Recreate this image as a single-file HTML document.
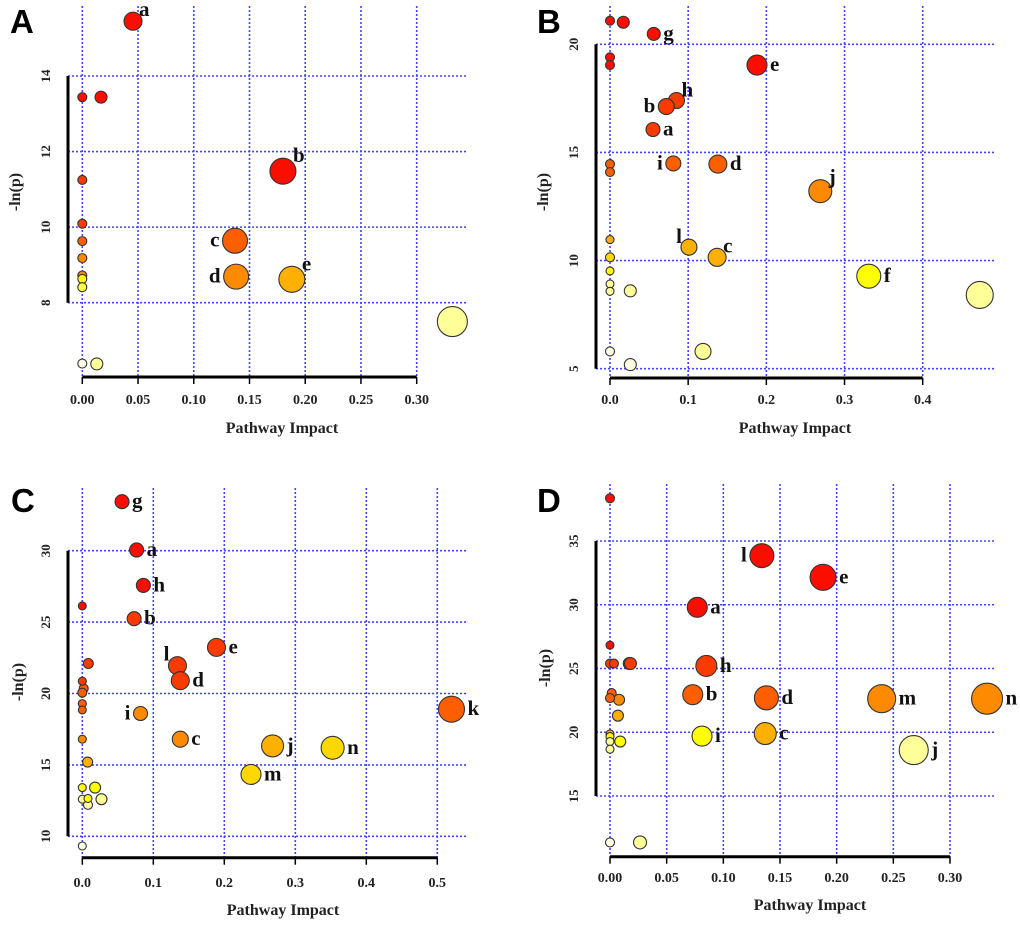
<!DOCTYPE html>
<html><head><meta charset="utf-8"><style>
html,body{margin:0;padding:0;background:#fff;}
svg{display:block;}
</style></head><body>
<svg id="fig" width="1020" height="927" viewBox="0 0 1020 927" xmlns="http://www.w3.org/2000/svg"></svg>
<script>
// ---------- Panel A data ----------
const aX=[0.0455,0,0.0168,0.180,0,0,0,0,0,0,0,0.137,0.138,0.188,0.332,0,0.013];
const aY=[15.45,13.44,13.44,11.48,11.25,10.09,9.63,9.18,8.72,8.63,8.41,9.64,8.69,8.62,7.50,6.39,6.38];
const aS=[9,4.5,6,13,4.5,4.5,4.5,4.5,4.5,4.5,4.5,12.5,12.5,13,15,4.5,6];
const aC=['R','R','R','R','OR','OR','O','O2','O2','YY','Y2','O','O2','AM','PY','W','PY'];
const aL=['a','','','b','','','','','','','','c','d','e','','',''];
const aSide=['ur','','','ur','','','','','','','','l','l','ur','','',''];
// ---------- Panel B data ----------
const bX=[0,0.017,0.056,0,0,0.188,0.085,0.072,0.055,0,0,0.081,0.138,0.269,0,0,0.101,0.137,0,0,0,0.026,0.331,0.473,0,0.119,0.026];
const bY=[21.09,21.02,20.48,19.40,19.04,19.04,17.40,17.12,16.06,14.46,14.09,14.49,14.46,13.21,10.97,10.15,10.62,10.15,9.52,8.92,8.58,8.60,9.28,8.41,5.80,5.80,5.19];
const bS=[4.5,6,6.5,4.5,4.5,10,8,8,7,4.5,4.5,7.5,9,11.5,4,4.5,8,9,4,4,4,6,12,13.5,4.5,8,6];
const bC=['R','R','R','R','R','R','OR','OR','OR','O','O','O','O','O2','AM','Y','AM','AM','YY','PY','PY','PY','YY','PY','W','PY','W'];
const bL=['','','g','','','e','h','b','a','','','i','d','j','','','l','c','','','','','f','','','',''];
const bSide=['','','r','','','r','ur','l','r','','','l','r','ur','','','ul','ur','','','','','r','','','',''];
// ---------- Panel C data ----------
const cX=[0.056,0.0765,0.086,0,0.073,0.189,0.134,0.138,0.0085,0,0.002,0,0,0,0.082,0.52,0,0.138,0.268,0.3526,0.0075,0.2376,0,0.018,0,0.008,0.027,0.008,0];
const cY=[33.43,30.05,27.57,26.13,25.24,23.23,21.95,20.9,22.1,20.86,20.35,20.06,19.29,18.85,18.6,18.9,16.8,16.8,16.33,16.2,15.2,14.33,13.41,13.41,12.6,12.65,12.6,12.2,9.32];
const cS=[7,7,7,4,7,9,9,9,5,4,4.5,4.5,4,4,7,13,4,8,11,11.5,5,10,4,5.5,4,4,5.5,4.5,4];
const cC=['R','R','R','R','OR','OR','OR','OR','OR','OR','O','O','O','O','O2','O','O2','O2','AM','Y','AM','Y','YY','YY','PY','YY','PY','PY','W'];
const cL=['g','a','h','','b','e','l','d','','','','','','','i','k','','c','j','n','','m','','','','','','',''];
const cSide=['r','r','r','','r','r','ul','r','','','','','','','l','r','','r','r','r','','r','','','','','','',''];
// ---------- Panel D data ----------
const dX=[0,0.134,0.188,0.077,0,0,0.0035,0.017,0.018,0.085,0.0015,0,0.008,0.073,0.138,0.2397,0.3327,0.007,0,0,0,0.009,0,0.0812,0.137,0.268,0,0.0265];
const dY=[38.35,33.85,32.15,29.8,26.83,25.39,25.39,25.39,25.39,25.2,23.07,22.68,22.55,22.95,22.7,22.63,22.63,21.3,19.87,19.66,19.27,19.27,18.67,19.7,19.9,18.6,11.36,11.36];
const dS=[4.5,12,13,10,4,4.5,4.5,6,6,10.5,4.5,4.5,5.5,10,12,14,15.5,5.5,4,4,4,5.5,4,10,11,14.5,4.5,6.5];
const dC=['R','R','R','R','R','OR','OR','OR','OR','OR','O','O','O2','O','O','O2','O2','AM','AM','YY','PY','YY','PY','YY','AM','PY','W','PY'];
const dL=['','l','e','a','','','','','','h','','','','b','d','m','n','','','','','','','i','c','j','',''];
const dSide=['','l','r','r','','','','','','r','','','','r','r','r','r','','','','','','','r','r','r','',''];
// ---------- axis ticks ----------
const aXT=[0,0.05,0.10,0.15,0.20,0.25,0.30], aXTL=['0.00','0.05','0.10','0.15','0.20','0.25','0.30'], aYT=[8,10,12,14];
const bXT=[0,0.1,0.2,0.3,0.4], bXTL=['0.0','0.1','0.2','0.3','0.4'], bYT=[5,10,15,20];
const cXT=[0,0.1,0.2,0.3,0.4,0.5], cXTL=['0.0','0.1','0.2','0.3','0.4','0.5'], cYT=[10,15,20,25,30];
const dXT=[0,0.05,0.10,0.15,0.20,0.25,0.30], dXTL=['0.00','0.05','0.10','0.15','0.20','0.25','0.30'], dYT=[15,20,25,30,35];

const PAL={R:'#fb0e00',OR:'#fb3a00',O:'#fd5e00',O2:'#fd8a00',AM:'#fdb000',Y:'#fdd800',YY:'#ffff00',Y2:'#ffff40',PY:'#ffff99',W:'#ffffe6'};
const NS='http://www.w3.org/2000/svg';
const svg=document.getElementById('fig');
function mk(tag,attrs,parent){const e=document.createElementNS(NS,tag);for(const k in attrs)e.setAttribute(k,attrs[k]);(parent||svg).appendChild(e);return e;}
const SERIF='"Liberation Serif", serif';

function panel(id,cfg,X,Y,S,C,L,SIDE,XT,XTL,YT){
  const g=mk('g',{});
  
  
  const sx=v=>cfg.x0+(v-cfg.xt0)/(cfg.xt1-cfg.xt0)*(cfg.x1-cfg.x0);
  const sy=v=>cfg.yb+(v-cfg.ylo)/(cfg.yhi-cfg.ylo)*(cfg.yt-cfg.yb);
  YT.forEach(t=>{const l=mk('line',{x1:cfg.ax,x2:cfg.gr,y1:sy(t),y2:sy(t),stroke:'#4444ff','stroke-width':1.6,'stroke-dasharray':'2,2'},g);
    });
  XT.forEach(t=>{const l=mk('line',{x1:sx(t),x2:sx(t),y1:cfg.gt,y2:cfg.xa,stroke:'#4444ff','stroke-width':1.6,'stroke-dasharray':'2,2'},g);
    });
  const ya=mk('line',{x1:cfg.ax,x2:cfg.ax,y1:sy(YT[0]),y2:sy(YT[YT.length-1]),stroke:'#000','stroke-width':3},g);
  
  const xa=mk('line',{x1:sx(XT[0]),x2:sx(XT[XT.length-1]),y1:cfg.xa,y2:cfg.xa,stroke:'#000','stroke-width':3},g);
  
  XT.forEach((t,i)=>{mk('line',{x1:sx(t),x2:sx(t),y1:cfg.xa,y2:cfg.xa+7,stroke:'#000','stroke-width':1.5},g);
    const tx=mk('text',{x:sx(t),y:cfg.tly,'text-anchor':'middle','font-family':SERIF,'font-weight':'bold','font-size':14,fill:'#222'},g);
    tx.textContent=XTL[i];});
  YT.forEach(t=>{const tx=mk('text',{x:cfg.ylx,y:sy(t),'text-anchor':'middle','font-family':SERIF,'font-weight':'bold','font-size':13,fill:'#222',transform:`rotate(-90 ${cfg.ylx} ${sy(t)})`},g);
    tx.textContent=String(t);});
  const xtit=mk('text',{x:cfg.xtx,y:cfg.xty,'text-anchor':'middle','font-family':SERIF,'font-weight':'bold','font-size':16,fill:'#222'},g);
  xtit.textContent='Pathway Impact';
  const ytit=mk('text',{x:cfg.ytx,y:cfg.yty,'text-anchor':'middle','font-family':SERIF,'font-weight':'bold','font-size':16,fill:'#222',transform:`rotate(-90 ${cfg.ytx} ${cfg.yty})`},g);
  ytit.textContent='-ln(p)';
  const pl=mk('text',{x:cfg.px,y:cfg.py,'font-family':'"Liberation Sans", sans-serif','font-weight':'bold','font-size':33,fill:'#000'},g);
  pl.textContent=id;
  const idx=X.map((_,i)=>i).sort((a,b)=>S[b]-S[a]);
  idx.forEach(i=>{const cx=sx(X[i]),cy=sy(Y[i]),r=S[i];
    const c=mk('circle',{cx:cx,cy:cy,r:r,fill:PAL[C[i]],stroke:'#333','stroke-width':1.1},g);
    
    if(L[i]){let x,y,anc='start';const s=SIDE[i];
      if(s==='r'){x=cx+r+3;y=cy+6;}
      else if(s==='l'){x=cx-r-3;y=cy+6;anc='end';}
      else if(s==='ur'){x=cx+r-3;y=cy-r+4;}
      else {x=cx-r+1;y=cy-r+4;anc='end';}
      const t=mk('text',{x:x,y:y,'text-anchor':anc,'font-family':SERIF,'font-weight':'bold','font-size':21,fill:'#111'},g);
      t.textContent=L[i];}
  });
}
panel('A',{x0:82.3,x1:416.7,xt0:0,xt1:0.3,ylo:8,yhi:14,yb:302.7,yt:76,ax:68,xa:377,gt:6,gr:467,ylx:50,tly:404,xtx:282,xty:433,ytx:20,yty:192,px:10,py:33},aX,aY,aS,aC,aL,aSide,aXT,aXTL,aYT);
panel('B',{x0:610,x1:922.7,xt0:0,xt1:0.4,ylo:5,yhi:20,yb:368.7,yt:44.3,ax:596,xa:378,gt:6,gr:995,ylx:578,tly:404,xtx:795,xty:433,ytx:548,yty:192,px:537,py:33},bX,bY,bS,bC,bL,bSide,bXT,bXTL,bYT);
panel('C',{x0:82.3,x1:437.3,xt0:0,xt1:0.5,ylo:10,yhi:30,yb:836.3,yt:550.7,ax:68,xa:857.7,gt:488,gr:467,ylx:50,tly:887,xtx:283,xty:915,ytx:23,yty:682,px:11,py:512},cX,cY,cS,cC,cL,cSide,cXT,cXTL,cYT);
panel('D',{x0:610,x1:950,xt0:0,xt1:0.3,ylo:15,yhi:35,yb:796,yt:541,ax:596,xa:856.7,gt:484,gr:995,ylx:578,tly:882,xtx:810,xty:910,ytx:550,yty:668,px:537,py:512},dX,dY,dS,dC,dL,dSide,dXT,dXTL,dYT);
</script>
</body></html>
